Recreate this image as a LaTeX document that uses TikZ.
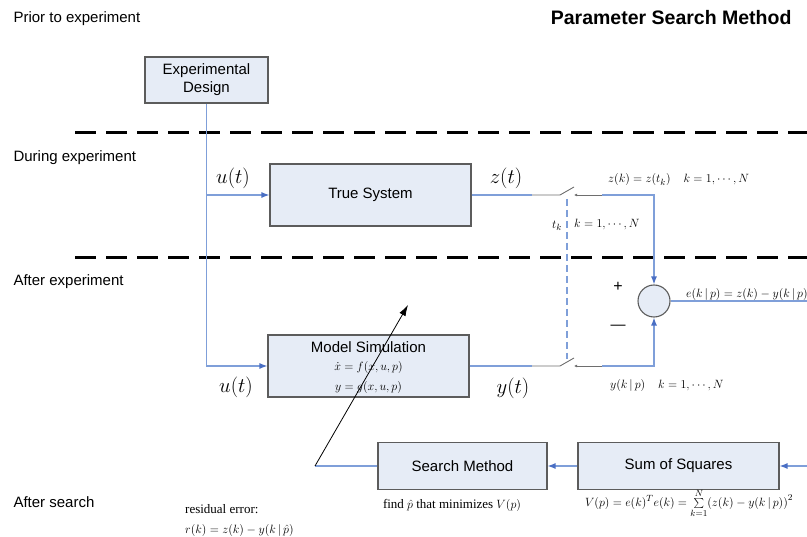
\documentclass[tikz,border=0pt]{standalone}
\usepackage{fontspec}
\setmainfont{Liberation Sans}
\newfontfamily\serifrm{Liberation Serif}
\usetikzlibrary{arrows.meta,calc}

\definecolor{flow}{HTML}{7F9FD9}
\definecolor{tipblue}{HTML}{4A6FC4}
\definecolor{boxfill}{HTML}{E6ECF6}
\definecolor{boxline}{HTML}{5C5C5C}
\definecolor{switchgray}{HTML}{6E6E6E}

\tikzset{
  block/.style={draw=boxline, line width=1.1pt, fill=boxfill, inner sep=0pt,
    align=center, font=\fontsize{15}{18}\selectfont},
  flowline/.style={draw=flow, line width=1.2pt},
  flowarrow/.style={flowline, -{Latex[length=8pt,width=6pt,color=tipblue]}},
  switchline/.style={draw=switchgray, line width=0.9pt},
  contact/.style={switchline, {Latex[length=3pt,width=3pt]}-},
  phase/.style={anchor=base west, font=\fontsize{15}{18}\selectfont},
  separator/.style={line width=3pt, dash pattern=on 21pt off 10pt},
  signal/.style={font=\fontsize{20}{24}\selectfont},
  note/.style={font=\fontsize{13}{16}\selectfont, inner sep=0pt},
  eqn/.style={font=\fontsize{13}{16}\selectfont, inner sep=0pt},
}

\begin{document}
\begin{tikzpicture}[x=1pt,y=-1pt]
\useasboundingbox (0,0) rectangle (807,537);

% phase labels and title
\node[phase] (pprior)  at (10,23)  {Prior to experiment};
\node[phase] (pduring) at (10,162) {During experiment};
\node[phase] (pafter)  at (10,286) {After experiment};
\node[phase] (psearch) at (10,508) {After search};
\node[anchor=base east, font=\bfseries\fontsize{19.5}{23}\selectfont] (title)
  at (795,25) {Parameter Search Method};

% phase separators
\draw[separator] (75,133) -- (807,133);
\draw[separator] (75,258) -- (807,258);

% blocks
\node[block, minimum width=123pt, minimum height=46pt] (design) at (206.5,80)
  {Experimental\\Design};
\node[block, minimum width=201pt, minimum height=62pt] (truesys) at (370.5,195)
  {True System};
\node[block, minimum width=201pt, minimum height=62pt] (modelsim) at (368.5,366) {};
\node[font=\fontsize{15}{18}\selectfont, inner sep=0pt] (mtitle) at (368.5,347) {Model Simulation};
\node[eqn] (mstate) at (368.5,368) {$\dot x = f(x,u,p)$};
\node[eqn] (mout)   at (368.5,388) {$y = g(x,u,p)$};
\node[block, minimum width=169pt, minimum height=47pt] (search) at (462.5,466)
  {Search Method};
\node[block, minimum width=201pt, minimum height=47pt] (sumsq) at (678.5,466)
  {Sum of Squares};
\node[draw=boxline, line width=1.1pt, fill=boxfill, circle, minimum size=32pt,
  inner sep=0pt] (sum) at (654,301) {};

% input u(t) to both systems
\coordinate (ujoin) at (design.south |- modelsim.west);
\draw[flowarrow] (design.south) -- (ujoin) -- (modelsim.west);
\draw[flowarrow] (design.south |- truesys.west) -- (truesys.west);

% measured output with sampling switch
\coordinate (za) at (532,195);
\coordinate (zb) at (560,195);
\coordinate (zblade) at (574,187);
\coordinate (zc) at (574,195);
\coordinate (zd) at (602,195);
\coordinate (zturn) at (sum.north |- zd);
\draw[flowline] (truesys.east) -- (za);
\draw[switchline] (za) -- (zb) -- (zblade);
\draw[contact] (zc) -- (zd);
\draw[flowarrow] (zd) -- (zturn) -- (sum.north);

% simulated output with sampling switch
\coordinate (ya) at (532,366);
\coordinate (yb) at (560,366);
\coordinate (yblade) at (574,358);
\coordinate (yc) at (574,366);
\coordinate (yd) at (602,366);
\coordinate (yturn) at (sum.south |- yd);
\draw[flowline] (modelsim.east) -- (ya);
\draw[switchline] (ya) -- (yb) -- (yblade);
\draw[contact] (yc) -- (yd);
\draw[flowarrow] (yd) -- (yturn) -- (sum.south);

% sampling instants
\coordinate (tktop) at (567,199);
\coordinate (tkbot) at (567,359);
\draw[draw=flow, line width=1.1pt, dash pattern=on 7pt off 4pt] (tktop) -- (tkbot);

% error output
\coordinate (eend) at (807,301);
\draw[flowline] (sum.east) -- (eend);

% cost and search loop
\coordinate (vin) at (807,466);
\draw[flowarrow] (vin) -- (sumsq.east);
\draw[flowarrow] (sumsq.west) -- (search.west -| search.east);
\coordinate (pivot) at (315,466);
\coordinate (ptip) at (408,305);
\draw[flowline] (search.west) -- (pivot);
\draw[line width=0.8pt, -{Latex[length=11pt,width=7pt]}] (pivot) -- (ptip);

% signal labels
\node[signal] (ulabel1) at (233,178) {$u(t)$};
\node[signal] (zlabel)  at (506,178) {$z(t)$};
\node[signal] (ulabel2) at (236,387) {$u(t)$};
\node[signal] (ylabel)  at (513,388) {$y(t)$};

\node[eqn, anchor=west] (zk) at (608,180) {$z(k)=z(t_k)\quad k=1,\cdots,N$};
\node[eqn] (tk) at (557,226) {$t_k$};
\node[eqn, anchor=west] (tkk) at (574,225) {$k=1,\cdots,N$};
\node[eqn, anchor=west] (yk) at (610,386) {$y(k\,|\,p)\quad k=1,\cdots,N$};
\node[eqn, anchor=west] (ek) at (686,295) {$e(k\,|\,p)=z(k)-y(k\,|\,p)$};

\node[font=\fontsize{16}{18}\selectfont] (plus)  at (618,287) {+};
\node[font=\fontsize{15}{18}\selectfont] (minus) at (618,327) {—};

\node[note] (findp) at (452,505) {\serifrm find $\hat p$ that minimizes $V(p)$};
\node[eqn] (vdef) at (689,503)
  {$V(p)=e(k)^{T}e(k)=\sum\limits_{k=1}^{N}\bigl(z(k)-y(k\,|\,p)\bigr)^{2}$};
\node[note, anchor=west] (rlabel) at (185,509) {\serifrm residual error:};
\node[eqn, anchor=west] (rdef) at (185,530) {$r(k)=z(k)-y(k\,|\,\hat p)$};

\end{tikzpicture}
\end{document}
